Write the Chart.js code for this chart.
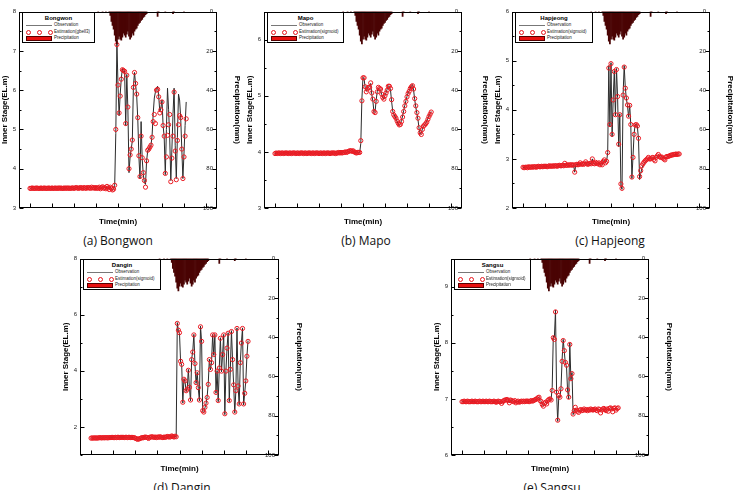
<!DOCTYPE html>
<html>
<head>
<meta charset="utf-8">
<script src="https://cdn.jsdelivr.net/npm/chart.js@4.4.1/dist/chart.umd.min.js"></script>
<style>
  html, body { margin: 0; padding: 0; background: #fff; }
  #fig { position: relative; width: 741px; height: 490px; overflow: hidden; background: #fff; }
  #fig canvas { position: absolute; }
  .caption { position: absolute; font-family: "Open Sans", sans-serif; font-size: 12px; color: #111;
             transform: translate(-50%, -50%); white-space: nowrap; }
  .legend { position: absolute; height: 31px; border: 1px solid #000; background: #fff; box-sizing: border-box;
            font-family: "Liberation Sans", Arial, sans-serif; color: #222; z-index: 2; }
  .lg-title { font-weight: bold; font-size: 6px; line-height: 7px; margin-top: 2px; text-align: center; color: #000; }
  .lg-row { position: relative; height: 6.5px; line-height: 6.5px; font-size: 4.5px; padding-left: 31px; white-space: nowrap; }
  .sym { position: absolute; left: 3px; width: 26px; }
  .sym.line { top: 3px; border-top: 1px solid #777; }
  .sym.dots { top: 1.5px; height: 4px; }
  .sym.dots i { position: absolute; top: 0; width: 3px; height: 3px; border: 0.8px solid #e8141c; border-radius: 50%; }
  .sym.rect { top: 0.5px; height: 5.5px; background: #e81010; border: 0.6px solid #500; box-sizing: border-box; }
</style>
</head>
<body>
<div id="fig"></div>
<script>
// time index (min) shared by all stations
const TIME = Array.from({ length: 143 }, (_, i) => i);

// rainfall, shared by all panels (right axis, reversed)
const PRECIP_TIME = [62, 66, 69, 72, 73, 74, 75, 76, 77, 78, 79, 80, 81, 82, 83, 84, 85, 86, 87, 88, 89, 90,
  91, 92, 93, 94, 95, 96, 97, 98, 99, 100, 101, 102, 103, 104, 105, 106, 116, 117, 123, 130, 131, 140];
const PRECIP_MM = [0.3, 0.4, 0.3, 0.5, 2, 5, 7, 9, 12, 15, 16.5, 14, 12.5, 14, 14.5, 13, 11, 12, 13, 11.5, 10, 12.5,
  14, 13, 11, 12, 10, 9, 8.5, 7, 6, 5.5, 4.5, 4, 3, 2.5, 1.5, 1, 2.5, 0.5, 0.3, 1, 0.5, 0.3];

// (a) Bongwon
const BASE_A = [3.50,3.50,3.51,3.50,3.50,3.50,3.51,3.50,3.50,3.50,3.51,3.50,3.50,3.51,3.50,3.50,3.50,3.51,3.50,3.50,
  3.51,3.50,3.50,3.51,3.50,3.50,3.51,3.50,3.51,3.50,3.50,3.51,3.50,3.51,3.50,3.51,3.50,3.50,3.51,3.51,
  3.50,3.51,3.52,3.51,3.50,3.51,3.52,3.51,3.50,3.52,3.51,3.50,3.52,3.51,3.52,3.50,3.53,3.51,3.52,3.50,
  3.52,3.50,3.51,3.53,3.49,3.52,3.54,3.50,3.52,3.49,3.55,3.51,3.47,3.53,3.50,3.46,3.48,3.58];
const OBS_A = [4.90,7.25,6.10,5.35,5.90,6.30,6.55,6.45,6.50,5.10,6.40,5.50,3.90,4.30,4.50,4.70,6.10,6.45,6.15,5.85,
  5.25,4.30,3.75,5.20,4.25,3.85,3.65,3.60,4.20,4.45,4.50,4.55,4.60,4.85,5.40,5.80,5.95,6.05,6.10,5.85,
  5.45,5.55,5.75,5.10,4.80,3.85,5.00,6.05,5.50,4.80,3.70,4.50,5.40,6.05,4.60,3.75,4.80,5.90,5.75,5.30,
  4.50,3.75,4.40,5.10,5.70];
const EST_A = [5.00,7.16,6.13,5.42,5.85,6.28,6.52,6.50,6.48,5.15,6.38,5.57,4.00,4.35,4.50,4.73,6.07,6.45,6.17,5.90,
  5.30,4.33,3.80,4.83,4.28,3.90,3.70,3.53,4.20,4.47,4.50,4.55,4.60,4.80,5.20,5.38,5.15,6.00,6.02,5.83,
  5.42,5.50,5.70,5.10,4.83,3.88,4.30,4.85,5.12,5.38,3.67,4.27,4.83,5.95,4.45,3.72,4.72,5.12,5.35,5.30,
  4.50,3.75,4.30,4.83,5.27];

// (b) Mapo
const BASE_B = [3.97,3.98,3.97,3.98,3.98,3.97,3.98,3.98,3.97,3.98,3.98,3.98,3.97,3.98,3.98,3.97,3.98,3.98,3.98,3.97,
  3.98,3.98,3.97,3.98,3.98,3.98,3.97,3.98,3.98,3.97,3.98,3.98,3.98,3.97,3.98,3.98,3.97,3.98,3.98,3.98,
  3.97,3.98,3.98,3.97,3.98,3.98,3.97,3.98,3.98,3.98,3.97,3.98,3.98,3.98,3.98,3.97,3.98,3.98,3.99,3.98,
  3.99,3.98,3.99,3.99,4.00,3.99,4.00,4.01,4.02,4.02,4.01,4.02,4.00,3.99,3.98,3.99,3.99,3.99];
const OBS_B = [4.15,4.95,5.33,5.30,5.14,5.08,5.13,5.16,5.17,5.22,5.02,4.90,4.70,4.72,4.93,5.08,5.14,5.12,5.10,5.02,
  4.96,4.95,5.01,5.06,5.12,5.18,5.16,5.10,4.90,4.73,4.67,4.63,4.59,4.54,4.50,4.47,4.50,4.56,4.64,4.74,
  4.83,4.91,4.99,5.05,5.09,5.14,5.17,5.20,5.10,4.93,4.80,4.68,4.57,4.41,4.32,4.33,4.41,4.46,4.48,4.51,
  4.55,4.60,4.64,4.68,4.72];
const EST_B = [4.20,4.91,5.32,5.32,5.16,5.07,5.12,5.15,5.15,5.23,5.05,4.94,4.72,4.70,4.90,5.07,5.15,5.13,5.12,5.03,
  4.97,4.94,5.00,5.05,5.10,5.17,5.17,5.13,4.93,4.72,4.66,4.63,4.60,4.55,4.51,4.48,4.49,4.54,4.62,4.72,
  4.82,4.90,4.98,5.04,5.08,5.13,5.16,5.18,5.12,4.95,4.82,4.70,4.60,4.43,4.34,4.31,4.40,4.46,4.48,4.50,
  4.53,4.58,4.63,4.67,4.71];

// (c) Hapjeong
const BASE_C = [2.83,2.82,2.83,2.83,2.82,2.84,2.83,2.83,2.84,2.83,2.84,2.84,2.83,2.84,2.85,2.84,2.84,2.85,2.84,2.85,
  2.85,2.85,2.84,2.85,2.86,2.85,2.85,2.86,2.85,2.86,2.86,2.85,2.86,2.87,2.86,2.86,2.87,2.86,2.91,2.87,
  2.87,2.88,2.87,2.88,2.88,2.87,2.88,2.73,2.88,2.89,2.88,2.89,2.92,2.89,2.90,2.89,2.90,2.94,2.90,2.89,
  2.90,2.91,2.90,3.00,2.91,2.90,2.93,2.91,2.90,2.92,2.88,2.91,2.88,2.95,2.98,2.92,2.95,3.13];
const OBS_C = [4.90,3.65,4.96,3.45,4.22,4.80,3.88,4.84,4.25,3.25,3.92,2.45,2.38,4.32,4.90,4.45,4.22,4.08,3.85,4.10,
  3.68,2.60,3.05,3.52,3.70,3.71,3.65,3.40,2.58,2.70,2.80,2.86,2.90,2.93,2.96,2.98,3.00,3.01,3.01,3.02,
  3.02,3.01,3.00,3.03,3.05,3.07,3.05,3.04,3.04,3.03,3.02,3.01,3.03,3.04,3.05,3.06,3.07,3.07,3.08,3.08,
  3.09,3.09,3.09,3.10,3.10];
const EST_C = [4.85,3.70,4.94,3.50,4.20,4.78,3.90,4.82,4.27,3.30,3.90,2.49,2.40,4.30,4.87,4.44,4.24,4.10,3.87,4.09,
  3.70,2.63,3.03,3.50,3.69,3.70,3.67,3.42,2.64,2.76,2.86,2.90,2.93,2.96,2.98,3.00,3.03,3.00,3.00,3.02,
  3.03,2.99,2.96,3.03,3.06,3.09,3.05,3.03,3.04,3.02,3.00,2.98,3.04,3.05,3.05,3.06,3.07,3.08,3.08,3.09,
  3.09,3.10,3.09,3.10,3.10];

// (d) Dangin
const BASE_D = [1.60,1.61,1.60,1.61,1.61,1.60,1.61,1.61,1.62,1.61,1.61,1.62,1.61,1.62,1.62,1.61,1.62,1.62,1.62,1.63,
  1.62,1.62,1.63,1.62,1.63,1.63,1.62,1.63,1.63,1.63,1.62,1.63,1.63,1.62,1.63,1.63,1.62,1.63,1.62,1.62,
  1.60,1.58,1.56,1.57,1.58,1.60,1.62,1.61,1.63,1.64,1.63,1.62,1.59,1.63,1.64,1.65,1.64,1.63,1.64,1.62,
  1.64,1.63,1.65,1.64,1.63,1.62,1.64,1.63,1.64,1.66,1.65,1.64,1.65,1.68,1.66,1.64,1.67,1.65];
const OBS_D = [5.72,5.42,5.33,4.30,4.20,2.85,3.72,3.62,3.26,3.38,4.05,3.38,2.93,4.43,4.70,5.30,4.22,3.55,3.95,3.37,
  2.93,5.60,5.02,2.55,2.50,2.68,2.83,3.08,3.55,4.42,4.03,4.31,5.30,4.55,5.30,3.20,4.01,2.90,4.12,5.18,
  3.96,4.60,5.30,2.44,4.01,4.83,5.36,2.90,4.07,5.43,4.38,3.47,2.50,3.31,5.53,3.43,2.79,4.31,5.01,5.53,
  2.78,3.22,3.66,4.54,5.08];
const EST_D = [5.69,5.45,5.36,4.34,4.23,2.88,3.70,3.64,3.29,3.35,4.02,3.41,2.96,4.40,4.67,5.28,4.26,3.58,3.93,3.40,
  2.96,5.57,5.05,2.58,2.53,2.70,2.85,3.05,3.52,4.40,4.05,4.29,5.28,4.58,5.28,3.23,3.99,2.94,4.10,5.16,
  3.99,4.58,5.28,2.47,3.99,4.81,5.34,2.94,4.05,5.40,4.40,3.50,2.53,3.29,5.51,3.46,2.82,4.29,4.99,5.51,
  2.82,3.20,3.64,4.52,5.05];

// (e) Sangsu
const BASE_E = [6.95,6.95,6.96,6.95,6.95,6.96,6.95,6.95,6.95,6.96,6.95,6.95,6.96,6.95,6.95,6.95,6.96,6.95,6.95,6.96,
  6.95,6.95,6.96,6.95,6.95,6.96,6.95,6.95,6.95,6.96,6.95,6.94,6.95,6.96,6.95,6.95,6.92,6.95,6.97,6.98,
  6.98,6.99,6.97,6.93,6.98,6.97,6.96,6.95,6.97,6.93,6.95,6.96,6.94,6.95,6.96,6.95,6.96,6.95,6.96,6.96,
  6.96,6.95,6.96,6.97,6.96,6.97,6.98,6.99,7.00,7.02,7.03,6.97,6.95,6.90,6.87,6.92,6.94,6.91];
const OBS_E = [6.97,6.99,7.00,6.99,7.20,8.12,8.10,8.58,7.10,6.60,7.05,7.02,7.20,7.70,8.06,7.84,7.62,7.58,7.14,7.00,
  8.00,7.34,7.47,6.72,6.78,6.83,6.80,6.79,6.78,6.79,6.80,6.80,6.80,6.81,6.80,6.80,6.80,6.80,6.80,6.81,
  6.81,6.80,6.81,6.81,6.80,6.80,6.81,6.81,6.79,6.80,6.81,6.82,6.81,6.80,6.81,6.80,6.82,6.82,6.82,6.80,
  6.82,6.83,6.82,6.82,6.83];
const EST_E = [6.97,6.99,7.00,6.98,7.15,8.09,8.06,8.55,7.12,6.62,7.06,7.03,7.18,7.67,8.04,7.86,7.65,7.60,7.16,7.03,
  7.97,7.36,7.45,6.73,6.79,6.85,6.80,6.78,6.76,6.80,6.81,6.79,6.80,6.82,6.80,6.81,6.79,6.81,6.80,6.82,
  6.81,6.80,6.81,6.82,6.80,6.79,6.82,6.81,6.75,6.80,6.82,6.83,6.81,6.79,6.82,6.78,6.83,6.84,6.82,6.77,
  6.83,6.84,6.80,6.83,6.84];

const PANELS = [
  { id: 'a', name: 'Bongwon', est: 'Estimation(gbell3)', caption: '(a) Bongwon', base: BASE_A, obs: OBS_A, estv: EST_A,
    yMin: 3, yMax: 8, minor: 0.5, major: 1, L: 19, R: 217, T: 9, B: 208, rw: 25, lw: 73, cx: 118, cy: 240 },
  { id: 'b', name: 'Mapo', est: 'Estimation(sigmoid)', caption: '(b) Mapo', base: BASE_B, obs: OBS_B, estv: EST_B,
    yMin: 3, yMax: 6.5, minor: 0.5, major: 1, L: 264, R: 462, T: 9, B: 208, rw: 28, lw: 77, cx: 366, cy: 240 },
  { id: 'c', name: 'Hapjeong', est: 'Estimation(sigmoid)', caption: '(c) Hapjeong', base: BASE_C, obs: OBS_C, estv: EST_C,
    yMin: 2, yMax: 6, minor: 0.5, major: 1, L: 512, R: 710, T: 9, B: 208, rw: 25, lw: 78, cx: 610, cy: 240 },
  { id: 'd', name: 'Dangin', est: 'Estimation(sigmoid)', caption: '(d) Dangin', base: BASE_D, obs: OBS_D, estv: EST_D,
    yMin: 1, yMax: 8, minor: 1, major: 2, L: 80, R: 279, T: 256, B: 455, rw: 25, lw: 78, cx: 182, cy: 487 },
  { id: 'e', name: 'Sangsu', est: 'Estimation(sigmoid)', caption: '(e) Sangsu', base: BASE_E, obs: OBS_E, estv: EST_E,
    yMin: 6, yMax: 9.5, minor: 0.5, major: 1, L: 451, R: 649, T: 256, B: 455, rw: 25, lw: 77, cx: 552, cy: 487 },
];

const FONT = 'Liberation Sans, Arial, sans-serif';
const isMult = (v, m) => Math.abs(v / m - Math.round(v / m)) < 1e-6;

// box around the plot and inward tick marks
const frameTicks = {
  id: 'frameTicks',
  afterDraw(chart, args, opts) {
    const { ctx, chartArea: a, scales } = chart;
    const l = Math.round(a.left) + 0.5, r = Math.round(a.right) - 0.5;
    const t = Math.round(a.top) + 0.5, b = Math.round(a.bottom) - 0.5;
    ctx.save();
    ctx.strokeStyle = '#000';
    ctx.lineWidth = 1;
    ctx.beginPath();
    scales.y.ticks.forEach(tk => {
      const py = Math.round(scales.y.getPixelForValue(tk.value)) + 0.5;
      const len = isMult(tk.value, opts.major) ? 4 : 2;
      ctx.moveTo(l, py); ctx.lineTo(l + len, py);
    });
    scales.y2.ticks.forEach(tk => {
      const py = Math.round(scales.y2.getPixelForValue(tk.value)) + 0.5;
      const len = isMult(tk.value, 20) ? 4 : 2;
      ctx.moveTo(r, py); ctx.lineTo(r - len, py);
    });
    scales.x.ticks.forEach(tk => {
      const px = Math.round(scales.x.getPixelForValue(tk.value)) + 0.5;
      ctx.moveTo(px, b); ctx.lineTo(px, b - 4);
    });
    ctx.stroke();
    ctx.strokeRect(l, t, r - l, b - t);
    ctx.restore();
  }
};

const fig = document.getElementById('fig');

PANELS.forEach(p => {
  const lw = 19, bh = 19, pt = 4;
  const canvas = document.createElement('canvas');
  const w = lw + (p.R - p.L) + p.rw;
  const h = pt + (p.B - p.T) + bh;
  canvas.width = w; canvas.height = h;
  canvas.style.left = (p.L - lw) + 'px';
  canvas.style.top = (p.T - pt) + 'px';
  canvas.style.width = w + 'px'; canvas.style.height = h + 'px';
  fig.appendChild(canvas);

  const obsSeries = p.base.concat(p.obs);
  const estSeries = p.base.concat(p.estv);

  new Chart(canvas, {
    data: {
      datasets: [
        {
          type: 'bar', label: 'Precipitation',
          data: PRECIP_TIME.map((t, i) => ({ x: t, y: PRECIP_MM[i] })),
          xAxisID: 'x', yAxisID: 'y2',
          backgroundColor: '#4a0404', borderWidth: 0,
          barPercentage: 1, categoryPercentage: 1, order: 0,
        },
        {
          type: 'line', label: p.est,
          data: estSeries.map((v, i) => ({ x: TIME[i], y: v })),
          xAxisID: 'x', yAxisID: 'y',
          showLine: false, pointRadius: 2.1, pointBorderWidth: 1,
          pointBorderColor: '#ea1a22', pointBackgroundColor: 'rgba(0,0,0,0)', order: 1,
        },
        {
          type: 'line', label: 'Observation',
          data: obsSeries.map((v, i) => ({ x: TIME[i], y: v })),
          xAxisID: 'x', yAxisID: 'y',
          borderColor: '#2b2b2b', borderWidth: 1, pointRadius: 0, tension: 0, order: 2,
        },
      ]
    },
    options: {
      responsive: false,
      animation: false,
      events: [],
      layout: { padding: { top: pt, left: 0, right: 0, bottom: 0 } },
      plugins: { legend: { display: false }, tooltip: { enabled: false }, frameTicks: { major: p.major } },
      scales: {
        x: {
          type: 'linear', position: 'bottom', min: 0, max: 160,
          ticks: { display: false, stepSize: 20 },
          grid: { display: false, drawTicks: false }, border: { display: false },
          title: { display: true, text: 'Time(min)', color: '#000', padding: 0,
                   font: { family: FONT, size: 8, weight: 'bold', lineHeight: 1.2 } },
          afterFit: s => { s.height = bh; },
        },
        y: {
          type: 'linear', position: 'left', min: p.yMin, max: p.yMax,
          ticks: { stepSize: p.minor, autoSkip: false, padding: 3, color: '#222',
                   font: { family: FONT, size: 6 },
                   callback: v => isMult(v, p.major) ? String(v) : '' },
          grid: { display: false, drawTicks: false }, border: { display: false },
          title: { display: true, text: 'Inner Stage(EL.m)', color: '#000', padding: 0,
                   font: { family: FONT, size: 8, weight: 'bold', lineHeight: 1.2 } },
          afterFit: s => { s.width = lw; },
        },
        y2: {
          type: 'linear', position: 'right', min: 0, max: 100, reverse: true,
          // mirrored labels sit inside the plot, just left of the right border
          ticks: { stepSize: 10, autoSkip: false, mirror: true, padding: -4, color: '#222',
                   font: { family: FONT, size: 6 },
                   callback: v => isMult(v, 20) ? String(v) : '' },
          grid: { display: false, drawTicks: false }, border: { display: false },
          title: { display: true, text: 'Precipitation(mm)', color: '#000', padding: 0,
                   font: { family: FONT, size: 8, weight: 'bold', lineHeight: 1.2 } },
          afterFit: s => { s.width = p.rw; },
        },
      }
    },
    plugins: [frameTicks]
  });

  // legend box inside the plot
  const box = document.createElement('div');
  box.className = 'legend';
  box.style.left = (p.L + 3) + 'px';
  box.style.top = (p.T + 3) + 'px';
  box.style.width = p.lw + 'px';
  box.innerHTML =
    `<div class="lg-title">${p.name}</div>` +
    `<div class="lg-row"><span class="sym line"></span><span>Observation</span></div>` +
    `<div class="lg-row"><span class="sym dots"><i style="left:0"></i><i style="left:11px"></i><i style="left:22px"></i></span><span>${p.est}</span></div>` +
    `<div class="lg-row"><span class="sym rect"></span><span>Precipitation</span></div>`;
  fig.appendChild(box);

  const cap = document.createElement('div');
  cap.className = 'caption';
  cap.style.left = p.cx + 'px';
  cap.style.top = p.cy + 'px';
  cap.textContent = p.caption;
  fig.appendChild(cap);
});
</script>
</body>
</html>
